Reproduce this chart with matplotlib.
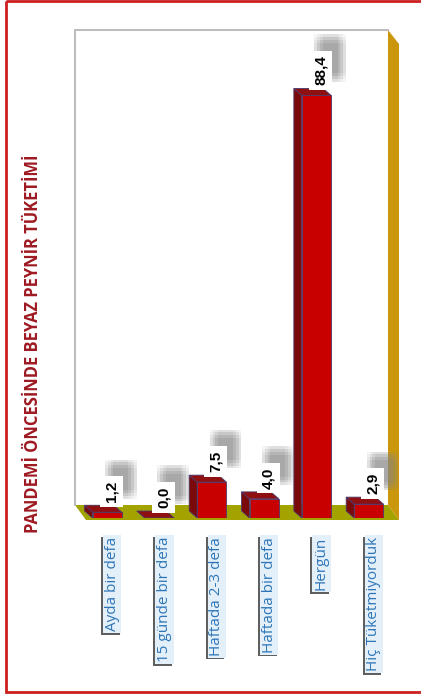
import numpy as np
import matplotlib.pyplot as plt
import matplotlib.patheffects as pe
from matplotlib.patches import Polygon, Rectangle

# ─── DATA ────────────────────────────────────────────
categories = ['Ayda bir defa', '15 günde bir defa', 'Haftada 2-3 defa',
              'Haftada bir defa', 'Hergün', 'Hiç Tüketmiyorduk']
values = [1.2, 0.0, 7.5, 4.0, 88.4, 2.9]
value_labels = ['1,2', '0,0', '7,5', '4,0', '88,4', '2,9']
title = 'PANDEMİ ÖNCESİNDE BEYAZ PEYNİR TÜKETİMİ'

W, H = 421, 696
fig = plt.figure(figsize=(W / 100, H / 100), dpi=100)
renderer = fig.canvas.get_renderer()


def fit_size(txt, target_px):
    # scale font so the text's long side is target_px pixels
    bb = txt.get_window_extent(renderer)
    return txt.get_fontsize() * target_px / max(bb.width, bb.height)


# ─── BACKGROUND / 3D WALLS (pixel coords) ────────────
bg = fig.add_axes([0, 0, 1, 1])
bg.set_xlim(0, W)
bg.set_ylim(H, 0)
bg.axis('off')

bg.add_patch(Rectangle((6, 1), 440, 691, fill=False, ec='#CC1F1F', lw=2))
bg.add_patch(Polygon([(75, 30), (388, 30), (388, 505), (75, 505)],
                     fc='white', ec='none'))
bg.plot([75, 75, 388], [505, 30, 30], color='#BDBDBD', lw=1.5)
bg.add_patch(Polygon([(75, 505), (388, 505), (399, 520), (86, 520)],
                     fc='#A3A300', ec='none'))
bg.add_patch(Polygon([(388, 30), (399, 44), (399, 520), (388, 505)],
                     fc='#C9960C', ec='none'))

tt = fig.text(33 / W, 1 - 344 / H, title, rotation=90, ha='center', va='center',
              color='#9E1A22', fontweight='bold', fontsize=12, family='Open Sans')
tt.set_fontsize(fit_size(tt, 378))

# ─── BARS ────────────────────────────────────────────
ax = fig.add_axes([81 / W, (H - 518) / H, 314 / W, 478 / H])
ax.set_xlim(-0.5, 5.5)
ax.set_ylim(0, 100)
ax.axis('off')
ax.patch.set_alpha(0)

x = np.arange(len(categories))
bw = 0.56
px_x = 314 / 6          # pixels per category
px_y = 478 / 100        # pixels per unit
dx = 8 / px_x           # bar depth, goes up-left
dy = 7 / px_y

for xi, v in zip(x, values):
    x0, x1 = xi - bw / 2, xi + bw / 2
    ax.add_patch(Polygon([(x0, 0), (x0, v), (x0 - dx, v + dy), (x0 - dx, dy)],
                         fc='#7A0A0A', ec='#4B3A6E', lw=0.6, zorder=2))
    ax.add_patch(Polygon([(x0, v), (x1, v), (x1 - dx, v + dy), (x0 - dx, v + dy)],
                         fc='#8E1010', ec='#4B3A6E', lw=0.6, zorder=2))
ax.bar(x, values, width=bw, color='#C80000', edgecolor='#4B3A6E',
       linewidth=0.6, zorder=3)

# blurry grey shadow behind the value boxes (several shifted copies)
soft = []
for ox in [4, 6, 8, 10]:
    for oy in [6, 8, 10, 12]:
        soft.append(pe.SimplePatchShadow(offset=(ox, oy), shadow_rgbFace='#888888',
                                         alpha=0.07))

val_texts = []
for xi, v, lab in zip(x, values, value_labels):
    t = ax.annotate(lab, (xi, v), xytext=(4, 10), textcoords='offset pixels',
                    rotation=90, ha='center', va='bottom', fontsize=10.5,
                    fontweight='bold', color='black', family='Liberation Sans',
                    bbox=dict(boxstyle='square,pad=0.3', fc='white', ec='none'),
                    zorder=5)
    t.get_bbox_patch().set_path_effects(soft + [pe.Normal()])
    val_texts.append(t)
vs = fit_size(val_texts[4], 30)
for t in val_texts:
    t.set_fontsize(vs)

# category labels
edge = [pe.SimplePatchShadow(offset=(-1.3, -1.3), shadow_rgbFace='#5F5F5F', alpha=1),
        pe.Normal()]
cat_texts = []
for xi, lab in zip(x, categories):
    t = ax.annotate(lab, (xi, 0), xytext=(5, -19), textcoords='offset pixels',
                    rotation=90, ha='center', va='top', fontsize=12,
                    color='#2E75B6', family='Open Sans',
                    bbox=dict(boxstyle='square,pad=0.12', fc='#E3F0FA', ec='none'),
                    annotation_clip=False)
    t.get_bbox_patch().set_path_effects(edge)
    cat_texts.append(t)
cs = fit_size(cat_texts[5], 133)
for t in cat_texts:
    t.set_fontsize(cs)

plt.savefig('out.png', dpi=100)
